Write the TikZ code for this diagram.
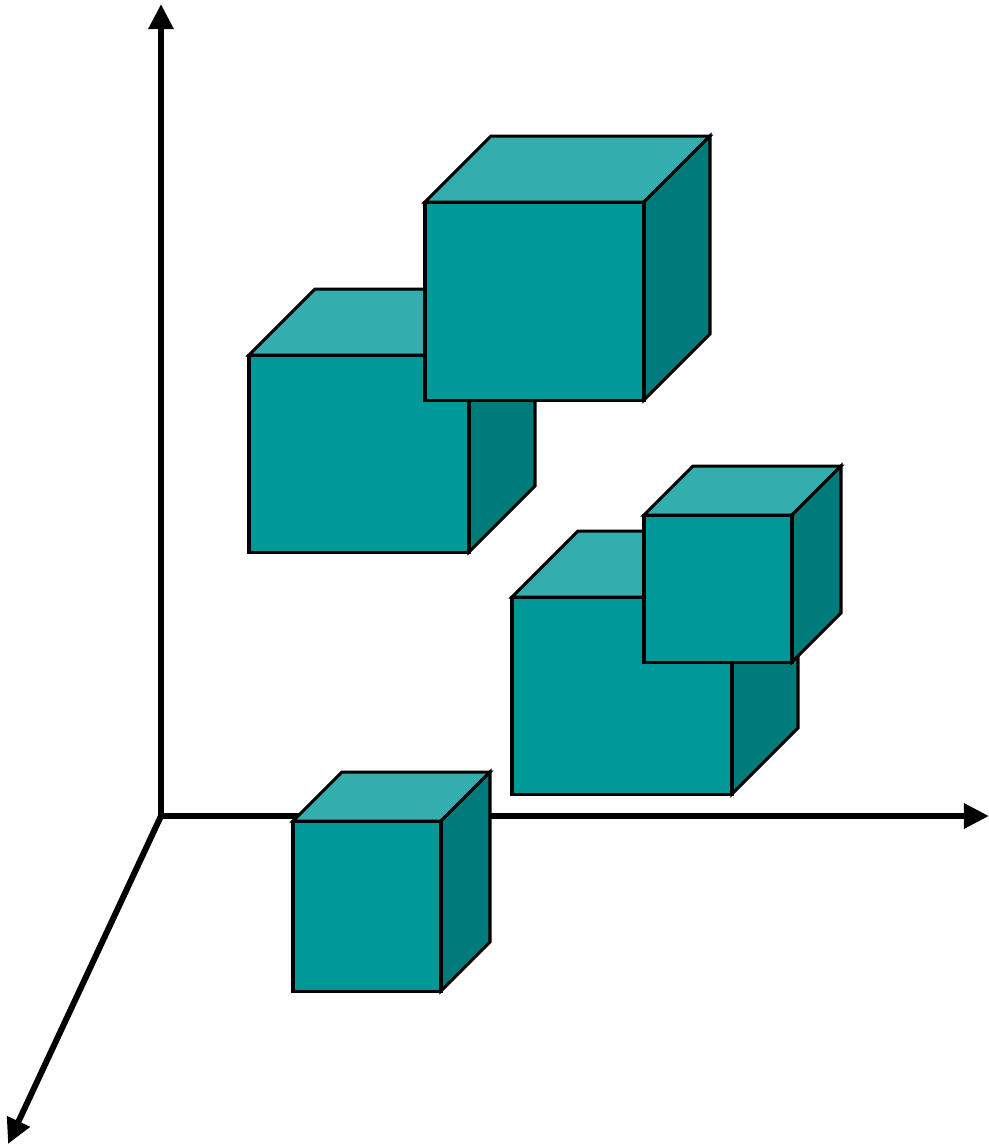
\documentclass[tikz,border=0pt]{standalone}
\usepackage{tikz}
\usetikzlibrary{arrows.meta}
\definecolor{cubefront}{HTML}{009999}
\definecolor{cubetop}{HTML}{33ADAD}
\definecolor{cubeside}{HTML}{007B7B}
% #1,#2 top left of front face, #3 width, #4 height, #5 depth
\newcommand{\drawcube}[5]{%
  \filldraw[cubeedge,fill=cubetop] (#1,#2) -- ++(#5,-#5) -- ++(#3,0) -- ++(-#5,#5) -- cycle;
  \filldraw[cubeedge,fill=cubeside] ({#1+#3},#2) -- ++(#5,-#5) -- ++(0,#4) -- ++(-#5,#5) -- cycle;
  \filldraw[cubeedge,fill=cubefront] (#1,#2) rectangle ++(#3,#4);
}

\begin{document}
\begin{tikzpicture}[x=0.01cm, y=-0.01cm,
    axis/.style={line width=0.06cm, -{Triangle[length=0.25cm,width=0.24cm]}},
    cubeedge/.style={draw=black, line width=0.03cm}]
                \useasboundingbox (0,0) rectangle (989,1147);
                \coordinate (O) at (161,816);
                \coordinate (Ytop) at (161,4);
                \coordinate (Xend) at (989,816);
                \coordinate (Zend) at (8,1144);
                \draw[axis] (O) -- (Ytop);
                \draw[axis] (O) -- (Xend);
                \draw[axis] (O) -- (Zend);
                \drawcube{249}{355}{220}{197}{66}
                \drawcube{425}{202}{219}{198}{66}
                \drawcube{512}{597}{220}{197}{66}
                \drawcube{644}{515}{148}{147}{49}
                \drawcube{293}{821}{148}{170}{49}
            \end{tikzpicture}
\end{document}
